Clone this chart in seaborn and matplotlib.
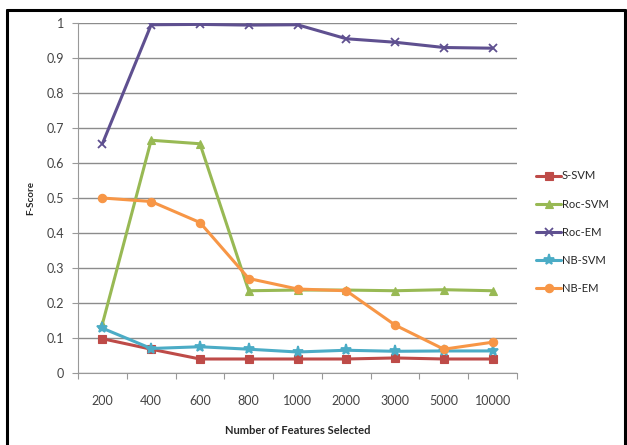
import matplotlib
matplotlib.use("Agg")
import matplotlib.pyplot as plt
import seaborn as sns
import pandas as pd
from matplotlib.lines import Line2D

features = ["200", "400", "600", "800", "1000", "2000", "3000", "5000", "10000"]
s_svm = [0.098, 0.068, 0.040, 0.040, 0.040, 0.040, 0.043, 0.040, 0.040]
roc_svm = [0.140, 0.665, 0.655, 0.235, 0.237, 0.237, 0.235, 0.238, 0.235]
roc_em = [0.655, 0.995, 0.996, 0.994, 0.995, 0.955, 0.945, 0.930, 0.928]
nb_svm = [0.128, 0.070, 0.075, 0.068, 0.060, 0.065, 0.062, 0.063, 0.063]
nb_em = [0.500, 0.490, 0.430, 0.270, 0.240, 0.235, 0.137, 0.068, 0.088]

series_names = ["S-SVM", "Roc-SVM", "Roc-EM", "NB-SVM", "NB-EM"]
series_values = [s_svm, roc_svm, roc_em, nb_svm, nb_em]
series_colors = ["#BE4B48", "#98B954", "#5F5090", "#4BACC6", "#F79646"]
series_markers = ["s", "^", "x", "*", "o"]
y_ticks = [0, 0.1, 0.2, 0.3, 0.4, 0.5, 0.6, 0.7, 0.8, 0.9, 1]
y_tick_labels = ["0", "0.1", "0.2", "0.3", "0.4", "0.5", "0.6", "0.7", "0.8", "0.9", "1"]

rows = []
for name, vals in zip(series_names, series_values):
    for i, v in enumerate(vals):
        rows.append({"pos": i, "series": name, "score": v})
df = pd.DataFrame(rows)

sns.set_theme(style="white")
plt.rcParams["font.family"] = ["Lato", "DejaVu Sans"]

fig = plt.figure(figsize=(6.27, 4.45), dpi=100)
ax = fig.add_axes([78 / 627, 1 - 373 / 445, (517 - 78) / 627, (373 - 23) / 445])

for name, color, marker in zip(series_names, series_colors, series_markers):
    sub = df[df["series"] == name]
    sns.lineplot(data=sub, x="pos", y="score", ax=ax, color=color, lw=2.2,
                 marker=marker, markersize=6 if marker != "*" else 8,
                 markeredgecolor=color, markeredgewidth=1.3 if marker in "x*" else 0.8,
                 label=name, legend=False)

ax.set_xlim(-0.5, len(features) - 0.5)
ax.set_ylim(0, 1)
ax.set_yticks(y_ticks)
ax.set_yticklabels(y_tick_labels)
ax.set_xticks(range(len(features)))
ax.set_xticklabels(features)
ax.set_xticks([i - 0.5 for i in range(len(features) + 1)], minor=True)
ax.tick_params(axis="x", which="major", length=0, pad=16, labelsize=9, colors="#444444")
ax.tick_params(axis="x", which="minor", length=4, color="#999999", width=0.8, direction="out", bottom=True)
ax.tick_params(axis="y", which="major", length=4, color="#999999", width=0.8, left=True,
               labelsize=9, colors="#444444", pad=6)

ax.grid(axis="y", color="#8c8c8c", lw=1.0)
ax.grid(axis="x", visible=False)
for side in ["top", "right"]:
    ax.spines[side].set_visible(False)
for side in ["left", "bottom"]:
    ax.spines[side].set_color("#999999")
    ax.spines[side].set_linewidth(0.8)
ax.set_axisbelow(True)

ax.set_xlabel("Number of Features Selected", fontsize=8, fontweight="bold", labelpad=13)
ax.set_ylabel("F-Score", fontsize=7, fontweight="bold", labelpad=8)

handles, labels = ax.get_legend_handles_labels()
fig.legend(handles, labels, loc="upper left", bbox_to_anchor=(532 / 627, 1 - 166 / 445),
           frameon=False, fontsize=8, labelspacing=1.55, handlelength=2.2,
           handletextpad=0.1, borderaxespad=0)

# outer frame around the chart area
frame_kw = dict(color="black", lw=2.2, transform=fig.transFigure)
fig.add_artist(Line2D([7 / 627, 7 / 627], [0, 1 - 10 / 445], **frame_kw))
fig.add_artist(Line2D([7 / 627, 625 / 627], [1 - 10 / 445, 1 - 10 / 445], **frame_kw))
fig.add_artist(Line2D([625 / 627, 625 / 627], [0, 1 - 10 / 445], **frame_kw))

fig.savefig("out.png", dpi=100)
